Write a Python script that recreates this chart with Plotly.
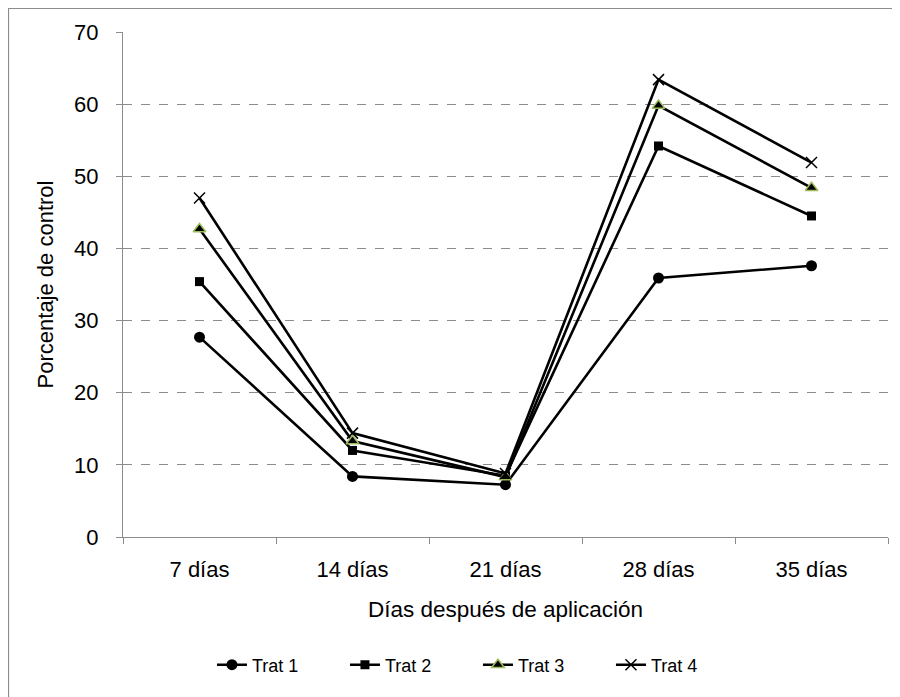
import plotly.graph_objects as go

categories = ["7 días", "14 días", "21 días", "28 días", "35 días"]
trat1 = [27.7, 8.4, 7.25, 35.9, 37.6]
trat2 = [35.4, 12.0, 8.5, 54.2, 44.5]
trat3 = [42.7, 13.3, 8.3, 59.8, 48.4]
trat4 = [47.0, 14.4, 8.8, 63.4, 51.9]
series_names = ["Trat 1", "Trat 2", "Trat 3", "Trat 4"]
yticks = [0, 10, 20, 30, 40, 50, 60, 70]

FONT = "Liberation Sans, Arial, sans-serif"
fig = go.Figure()

styles = [
    dict(symbol="circle", size=11, color="black", line=dict(width=0)),
    dict(symbol="square", size=9, color="black", line=dict(width=0)),
    dict(symbol="triangle-up", size=11, color="black", line=dict(width=1.5, color="#9BBB59")),
    dict(symbol="x-thin-open", size=11, color="black", line=dict(width=1.5, color="black")),
]
for name, vals, st in zip(series_names, [trat1, trat2, trat3, trat4], styles):
    fig.add_trace(go.Scatter(
        x=categories, y=vals, name=name, mode="lines+markers",
        line=dict(color="black", width=2.6),
        marker=st,
    ))

L, R, T, B = 115, 20, 24, 168
PW, PH = 900 - L - R, 697 - T - B

fig.update_layout(
    width=900, height=697,
    margin=dict(l=L, r=R, t=T, b=B),
    paper_bgcolor="white", plot_bgcolor="white",
    font=dict(family=FONT, size=22, color="black"),
    showlegend=True,
    legend=dict(orientation="h", x=0.464, xanchor="center", y=-0.2535, yanchor="middle",
                font=dict(size=18), itemwidth=30, entrywidth=88, entrywidthmode="pixels",
                tracegroupgap=0),
    shapes=[dict(type="rect", xref="paper", yref="paper",
                 x0=(0.5 - L) / PW, x1=(920 - L) / PW,
                 y0=(PH + T - 720) / PH, y1=(PH + T - 0.5) / PH,
                 line=dict(color="#8c8c8c", width=1.2), fillcolor="rgba(0,0,0,0)", layer="below")],
)
fig.update_xaxes(
    type="category", range=[-0.5, 4.5], showline=True, linecolor="#8c8c8c", linewidth=1.2,
    ticks="outside", tickson="boundaries", ticklen=6, tickcolor="#8c8c8c",
    showgrid=False, tickfont=dict(size=22), ticklabelstandoff=12,
    title=dict(text="Días después de aplicación", font=dict(size=22.5), standoff=20),
)
fig.update_yaxes(
    range=[0, 70], tickvals=yticks, showline=True, linecolor="#8c8c8c", linewidth=1.2,
    ticks="outside", ticklen=6, tickcolor="#8c8c8c",
    showgrid=True, gridcolor="#8c8c8c", griddash="dash", gridwidth=1,
    zeroline=False, tickfont=dict(size=22), ticklabelstandoff=13,
    title=dict(text="Porcentaje de control", font=dict(size=22), standoff=14),
)

fig.write_html("out.html")
